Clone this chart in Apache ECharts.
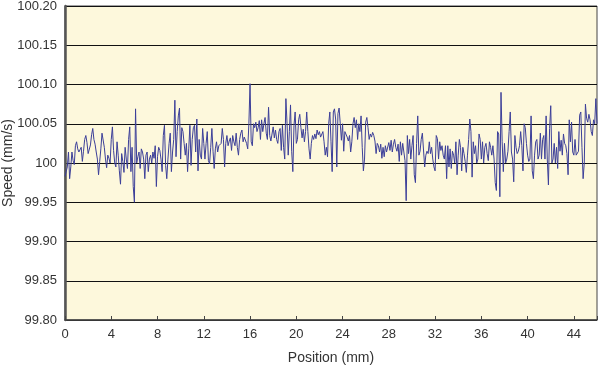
<!DOCTYPE html>
<html lang="en">
<head>
    <meta charset="UTF-8">
    <title>Speed vs Position</title>
    <script src="https://cdn.jsdelivr.net/npm/echarts@6/dist/echarts.min.js"></script>
    <style>
        html, body { margin: 0; padding: 0; background: #fff; }
        #container { width: 600px; height: 365px; }
    </style>
</head>
<body>
<div id="container"></div>
<script>
    // position step between samples (mm)
    var posStep = 0.1;

    // measured speed (mm/s), one value every 0.1 mm from 0 to 46 mm
    var speed = [
        99.983, 99.983, 99.995, 100.014, 99.980, 99.995, 100.014, 100.003, 99.998, 100.022,
        100.027, 100.018, 100.014, 100.017, 100.020, 100.002, 100.015, 100.030, 100.035, 100.026,
        100.012, 100.014, 100.023, 100.036, 100.044, 100.030, 100.024, 100.014, 100.005, 99.985,
        100.002, 100.018, 100.038, 100.040, 100.020, 100.005, 99.994, 100.010, 100.006, 100.000,
        100.030, 100.046, 100.016, 100.000, 99.995, 100.027, 100.010, 99.990, 99.973, 100.012,
        100.002, 99.988, 100.020, 100.005, 99.993, 100.030, 100.046, 99.989, 100.020, 99.970,
        99.950, 100.069, 100.000, 100.008, 100.014, 99.993, 100.018, 100.014, 100.005, 99.980,
        100.010, 100.014, 99.989, 100.005, 100.010, 100.000, 100.014, 100.006, 100.022, 99.970,
        100.008, 100.020, 100.016, 100.005, 99.989, 100.035, 100.048, 99.997, 99.980, 100.005,
        100.025, 100.038, 99.989, 100.014, 100.030, 100.080, 100.008, 100.040, 100.060, 100.070,
        100.005, 100.045, 100.040, 100.025, 100.010, 100.025, 99.989, 100.018, 100.048, 99.997,
        100.030, 100.045, 100.048, 100.014, 100.056, 99.990, 100.030, 100.010, 100.005, 100.044,
        100.025, 100.005, 100.025, 100.040, 100.003, 99.999, 100.020, 100.044, 100.015, 99.993,
        100.018, 100.027, 100.014, 100.022, 100.020, 100.025, 100.044, 100.030, 99.995, 100.025,
        100.035, 100.022, 100.028, 100.032, 100.016, 100.035, 100.027, 100.022, 100.038, 100.020,
        100.010, 100.030, 100.038, 100.042, 100.027, 100.033, 100.035, 100.025, 100.018, 100.050,
        100.101, 100.027, 100.022, 100.050, 100.045, 100.052, 100.040, 100.045, 100.054, 100.030,
        100.055, 100.040, 100.050, 100.058, 100.038, 100.030, 100.071, 100.035, 100.028, 100.027,
        100.046, 100.032, 100.042, 100.030, 100.025, 100.040, 100.044, 100.016, 100.048, 100.020,
        100.005, 100.082, 100.050, 100.010, 100.040, 100.074, 100.015, 99.989, 100.048, 100.065,
        100.025, 100.030, 100.055, 100.062, 100.045, 100.032, 100.043, 100.027, 100.040, 100.065,
        100.040, 100.018, 100.005, 100.025, 100.035, 100.030, 100.037, 100.031, 100.042, 100.036,
        100.040, 100.033, 100.031, 100.040, 100.027, 100.010, 100.020, 100.008, 100.050, 100.065,
        100.027, 99.989, 100.065, 100.069, 100.056, 99.995, 100.063, 100.070, 100.050, 100.029,
        100.050, 100.015, 100.040, 100.038, 100.033, 100.028, 100.035, 100.014, 100.027, 100.050,
        100.058, 100.045, 100.055, 100.030, 100.050, 100.040, 100.060, 100.020, 99.990, 100.005,
        100.052, 100.058, 100.045, 100.030, 100.037, 100.033, 100.039, 100.035, 100.028, 100.012,
        100.025, 100.022, 100.014, 100.024, 100.006, 100.020, 100.008, 100.022, 100.014, 100.012,
        100.026, 100.016, 100.029, 100.014, 100.024, 100.030, 100.020, 100.015, 100.024, 100.002,
        100.027, 100.010, 100.025, 100.027, 100.003, 99.952, 100.035, 100.012, 100.030, 100.005,
        100.022, 100.035, 99.985, 99.975, 100.025, 100.060, 100.010, 100.015, 100.030, 100.038,
        100.040, 99.995, 100.010, 100.015, 100.012, 100.027, 100.012, 100.020, 100.005, 99.995,
        99.990, 100.035, 100.031, 100.005, 100.027, 100.016, 100.022, 100.010, 100.005, 100.022,
        99.980, 100.022, 99.995, 100.018, 99.993, 100.015, 100.010, 100.000, 100.027, 99.985,
        100.010, 100.030, 100.020, 99.990, 100.020, 100.012, 100.002, 99.988, 100.010, 100.030,
        100.056, 100.040, 99.982, 100.027, 100.012, 100.022, 100.000, 100.005, 100.037, 100.030,
        100.005, 100.027, 100.000, 100.020, 100.025, 100.012, 100.003, 100.027, 100.020, 100.010,
        100.022, 100.005, 99.975, 99.965, 100.040, 100.037, 99.957, 100.090, 100.027, 99.989,
        100.025, 100.000, 100.005, 100.015, 100.040, 100.065, 100.014, 100.005, 99.976, 100.035,
        100.020, 100.012, 100.015, 100.022, 100.040, 100.022, 99.990, 100.050, 100.045, 100.025,
        100.010, 100.002, 100.005, 100.060, 99.990, 99.980, 100.010, 100.027, 100.030, 100.005,
        100.010, 100.038, 100.005, 100.030, 100.035, 100.005, 100.060, 100.005, 99.972, 100.044,
        100.073, 100.000, 100.005, 100.025, 100.000, 100.020, 99.993, 100.040, 100.015, 100.029,
        100.010, 100.037, 100.025, 100.022, 100.012, 99.985, 100.055, 100.027, 100.052, 100.014,
        100.010, 100.030, 100.010, 100.008, 100.015, 100.061, 100.065, 100.020, 99.980, 100.000,
        100.075, 100.057, 100.052, 100.062, 100.055, 100.040, 100.035, 100.055, 100.050, 100.082,
        100.050
    ];

    // axis settings
    var xMin = 0, xMax = 46, xStep = 4;
    var yMin = 99.80, yMax = 100.20, yStep = 0.05;

    var font = "'Liberation Sans', Arial, sans-serif";

    var seriesData = speed.map(function (v, i) {
        return [+(i * posStep).toFixed(1), v];
    });

    var myChart = echarts.init(document.getElementById('container'));

    myChart.setOption({
        animation: false,
        backgroundColor: '#ffffff',
        grid: {
            left: 65, right: 3, top: 6, bottom: 45,
            outerBoundsMode: 'none',
            containLabel: false,
            show: true,
            backgroundColor: '#fdf8dc',
            borderColor: '#444',
            borderWidth: 1
        },
        xAxis: {
            type: 'value',
            min: xMin, max: xMax, interval: xStep,
            name: 'Position (mm)',
            nameLocation: 'middle',
            nameGap: 31,
            nameMoveOverlap: false,
            nameTextStyle: { fontFamily: font, fontSize: 14, color: '#333' },
            axisLine: { show: true, onZero: false, lineStyle: { color: '#444', width: 1.5 } },
            axisTick: { show: true, inside: true, length: 4, lineStyle: { color: '#444' } },
            axisLabel: {
                fontFamily: font, fontSize: 13, color: '#333', margin: 8,
                formatter: function (v) { return v % xStep === 0 ? String(v) : ''; }
            },
            splitLine: { show: false }
        },
        yAxis: {
            type: 'value',
            min: yMin, max: yMax, interval: yStep,
            name: 'Speed (mm/s)',
            nameLocation: 'middle',
            nameGap: 50,
            nameMoveOverlap: false,
            nameTextStyle: { fontFamily: font, fontSize: 14, color: '#333' },
            axisLine: { show: true, onZero: false, lineStyle: { color: '#555', width: 2.5 } },
            axisTick: { show: false },
            axisLabel: {
                fontFamily: font, fontSize: 13, color: '#333', margin: 8,
                formatter: function (v) {
                    return Math.abs(v - 100) < 1e-9 ? '100' : v.toFixed(2);
                }
            },
            splitLine: { show: true, lineStyle: { color: '#111', width: 1 } }
        },
        series: [
            {
                type: 'line',
                data: seriesData,
                showSymbol: false,
                smooth: false,
                lineStyle: { color: '#3c3f99', width: 1 },
                z: 3
            }
        ]
    });
</script>
</body>
</html>
